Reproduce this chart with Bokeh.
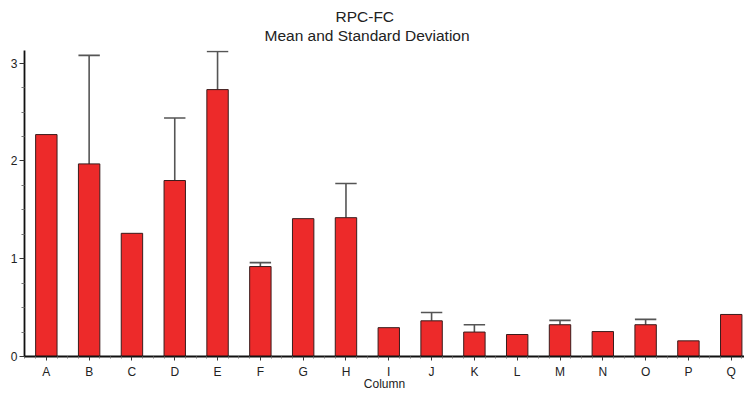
from bokeh.plotting import figure
from bokeh.models import Range1d, FixedTicker, Title
from bokeh.embed import file_html
from bokeh.resources import INLINE

# ---- data ----
categories = ["A", "B", "C", "D", "E", "F", "G", "H", "I", "J", "K", "L", "M", "N", "O", "P", "Q"]
means = [2.27, 1.97, 1.26, 1.80, 2.73, 0.92, 1.41, 1.42, 0.295, 0.365, 0.25, 0.225, 0.325, 0.255, 0.325, 0.16, 0.43]
sds = [0.0, 1.11, 0.0, 0.64, 0.39, 0.04, 0.0, 0.35, 0.0, 0.085, 0.075, 0.0, 0.045, 0.0, 0.055, 0.0, 0.0]
y_ticks = [0, 1, 2, 3]
title_lines = ["RPC-FC", "Mean and Standard Deviation"]
x_label = "Column"

FONT = "Liberation Sans"
TEXT = "#222222"

xs = list(range(len(categories)))

p = figure(width=744, height=393, output_backend="svg", toolbar_location=None,
           x_range=Range1d(-0.51, 16.31), y_range=Range1d(0, 3.13),
           min_border_left=24, min_border_right=0, min_border_top=50, min_border_bottom=35,
           background_fill_color="white", border_fill_color="white")

# title (two lines): outer line first, inner line added after
p.title.text = title_lines[0]
p.title.align = "left"
p.title.offset = 311
p.title.text_font = FONT
p.title.text_font_size = "15.5px"
p.title.text_font_style = "normal"
p.title.text_color = TEXT
p.title.standoff = -13
p.add_layout(Title(text=title_lines[1], align="left", offset=240, text_font=FONT,
                   text_font_size="15.5px", text_font_style="normal", text_color=TEXT,
                   standoff=13), "above")

# error bars (upper only)
ex = [x for x, s in zip(xs, sds) if s > 0]
ey0 = [m for m, s in zip(means, sds) if s > 0]
ey1 = [m + s for m, s in zip(means, sds) if s > 0]
p.segment(x0=ex, y0=ey0, x1=ex, y1=ey1, line_color="#555555", line_width=1.6)
p.segment(x0=[x - 0.25 for x in ex], y0=ey1, x1=[x + 0.25 for x in ex], y1=ey1,
          line_color="#555555", line_width=1.6)

# bars
p.vbar(x=xs, top=means, bottom=0, width=0.5, fill_color="#ed2a2a", line_color="#3a1c1c", line_width=1)

# axes
p.xgrid.visible = False
p.ygrid.visible = False
p.outline_line_color = None

xminor = [x + d for x in range(-1, len(categories)) for d in (0.25, 0.5, 0.75)]
p.xaxis.ticker = FixedTicker(ticks=xs, minor_ticks=xminor)
p.xaxis.major_label_overrides = {x: c for x, c in zip(xs, categories)}
yminor = [t + d for t in y_ticks for d in (0.25, 0.5, 0.75) if t + d < 3.13]
p.yaxis.ticker = FixedTicker(ticks=y_ticks, minor_ticks=yminor)

for ax in (p.xaxis[0], p.yaxis[0]):
    ax.axis_line_color = "#111111"
    ax.axis_line_width = 1.8
    ax.major_tick_line_color = "#333333"
    ax.minor_tick_line_color = "#777777"
    ax.major_tick_in = 0
    ax.minor_tick_in = 0
    ax.major_label_text_font = FONT
    ax.major_label_text_color = TEXT
    ax.major_label_text_font_size = "12px"

p.xaxis.major_tick_out = 4
p.xaxis.minor_tick_out = 2
p.xaxis.major_label_standoff = 4
p.xaxis.axis_label = x_label
p.xaxis.axis_label_text_font = FONT
p.xaxis.axis_label_text_font_style = "normal"
p.xaxis.axis_label_text_font_size = "12px"
p.xaxis.axis_label_text_color = TEXT
p.xaxis.axis_label_standoff = -5

p.yaxis.major_tick_out = 5
p.yaxis.minor_tick_out = 3
p.yaxis.major_label_standoff = 2

open("out.html", "w").write(file_html(p, INLINE))
